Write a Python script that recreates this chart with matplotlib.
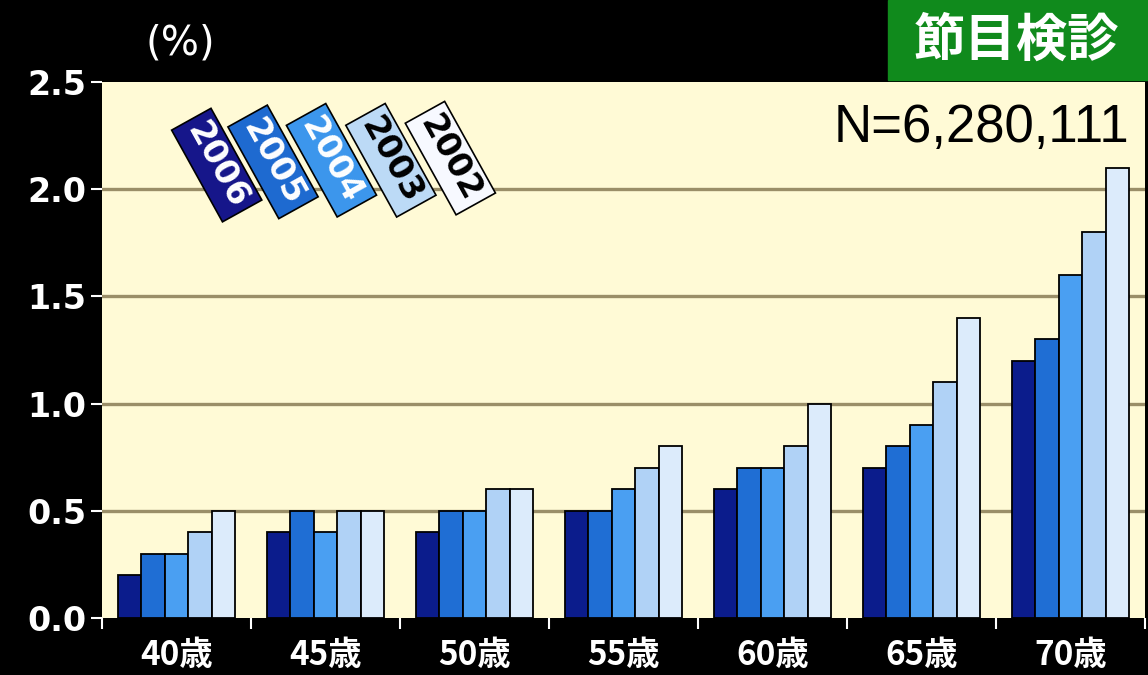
import numpy as np
import matplotlib.pyplot as plt

# data
ages = ['40歳', '45歳', '50歳', '55歳', '60歳', '65歳', '70歳']
years = ['2006', '2005', '2004', '2003', '2002']
y2006 = [0.2, 0.4, 0.4, 0.5, 0.6, 0.7, 1.2]
y2005 = [0.3, 0.5, 0.5, 0.5, 0.7, 0.8, 1.3]
y2004 = [0.3, 0.4, 0.5, 0.6, 0.7, 0.9, 1.6]
y2003 = [0.4, 0.5, 0.6, 0.7, 0.8, 1.1, 1.8]
y2002 = [0.5, 0.5, 0.6, 0.8, 1.0, 1.4, 2.1]
series = [y2006, y2005, y2004, y2003, y2002]

bar_colors = ['#0b1c8c', '#1f6ed4', '#4a9ff2', '#b0d2f6', '#dcebfb']
legend_colors = ['#16168a', '#1e6ad0', '#3c96ec', '#bcdaf6', '#f7f9ff']
legend_text = ['white', 'white', 'white', 'black', 'black']

plt.rcParams['font.family'] = ['DejaVu Sans']
cjk = ['Noto Sans CJK JP', 'DejaVu Sans']

fig = plt.figure(figsize=(11.48, 6.75), dpi=100, facecolor='black')
ax = fig.add_axes([102/1148, 57/675, 1043/1148, 536/675])
ax.set_facecolor('#fffad6')

x = np.arange(len(ages))
w = 0.158
for j, vals in enumerate(series):
    ax.bar(x + 0.5 + (j - 2) * w, vals, width=w, color=bar_colors[j],
           edgecolor='black', linewidth=1.3, zorder=3)

ax.set_xlim(0, len(ages))
ax.set_ylim(0, 2.5)
ax.set_yticks([0, 0.5, 1.0, 1.5, 2.0, 2.5])
ax.set_yticklabels(['0.0', '0.5', '1.0', '1.5', '2.0', '2.5'])
for yv in [0.5, 1.0, 1.5, 2.0]:
    ax.axhline(yv, color='#9a8e68', linewidth=2.4, zorder=1)

ax.set_xticks(np.arange(len(ages) + 1))
ax.set_xticklabels([])
ax.set_xticks(x + 0.5, minor=True)
ax.set_xticklabels(ages, minor=True, family=cjk, fontweight='bold',
                   fontsize=24, color='white')
ax.tick_params(axis='x', which='minor', length=0, pad=15)
ax.tick_params(axis='x', which='major', length=8, width=1.5, color='white')
ax.tick_params(axis='y', length=8, width=1.5, color='white',
               labelcolor='white', labelsize=24, pad=3)
for lab in ax.get_yticklabels():
    lab.set_fontweight('bold')
for s in ax.spines.values():
    s.set_visible(False)

# rotated year legend
lx = [0.110, 0.164, 0.220, 0.277, 0.334]
ly = [0.845, 0.851, 0.854, 0.854, 0.858]
for j, yr in enumerate(years):
    ax.text(lx[j], ly[j], yr, transform=ax.transAxes, rotation=-61,
            rotation_mode='anchor', ha='center', va='center',
            fontsize=24, fontweight='bold', color=legend_text[j], zorder=6 + j,
            bbox=dict(boxstyle='square,pad=0.18', fc=legend_colors[j],
                      ec='black', lw=1.2))

ax.text(0.985, 0.915, 'N=6,280,111', transform=ax.transAxes, ha='right',
        va='center', fontsize=38, family='Liberation Sans', color='black')

fig.text(180/1148, 1 - 43/675, '(%)', ha='center', va='center',
         fontsize=29, color='white')
fig.patches.append(plt.Rectangle((888/1148, 1 - 80/675), 260/1148, 80/675,
                                 transform=fig.transFigure, color='#108a1c',
                                 zorder=5))
fig.text(1016/1148, 1 - 40/675, '節目検診', ha='center', va='center',
         fontsize=37, fontweight='bold', family=cjk, color='white', zorder=6)

fig.savefig('out.png', dpi=100, facecolor='black')
